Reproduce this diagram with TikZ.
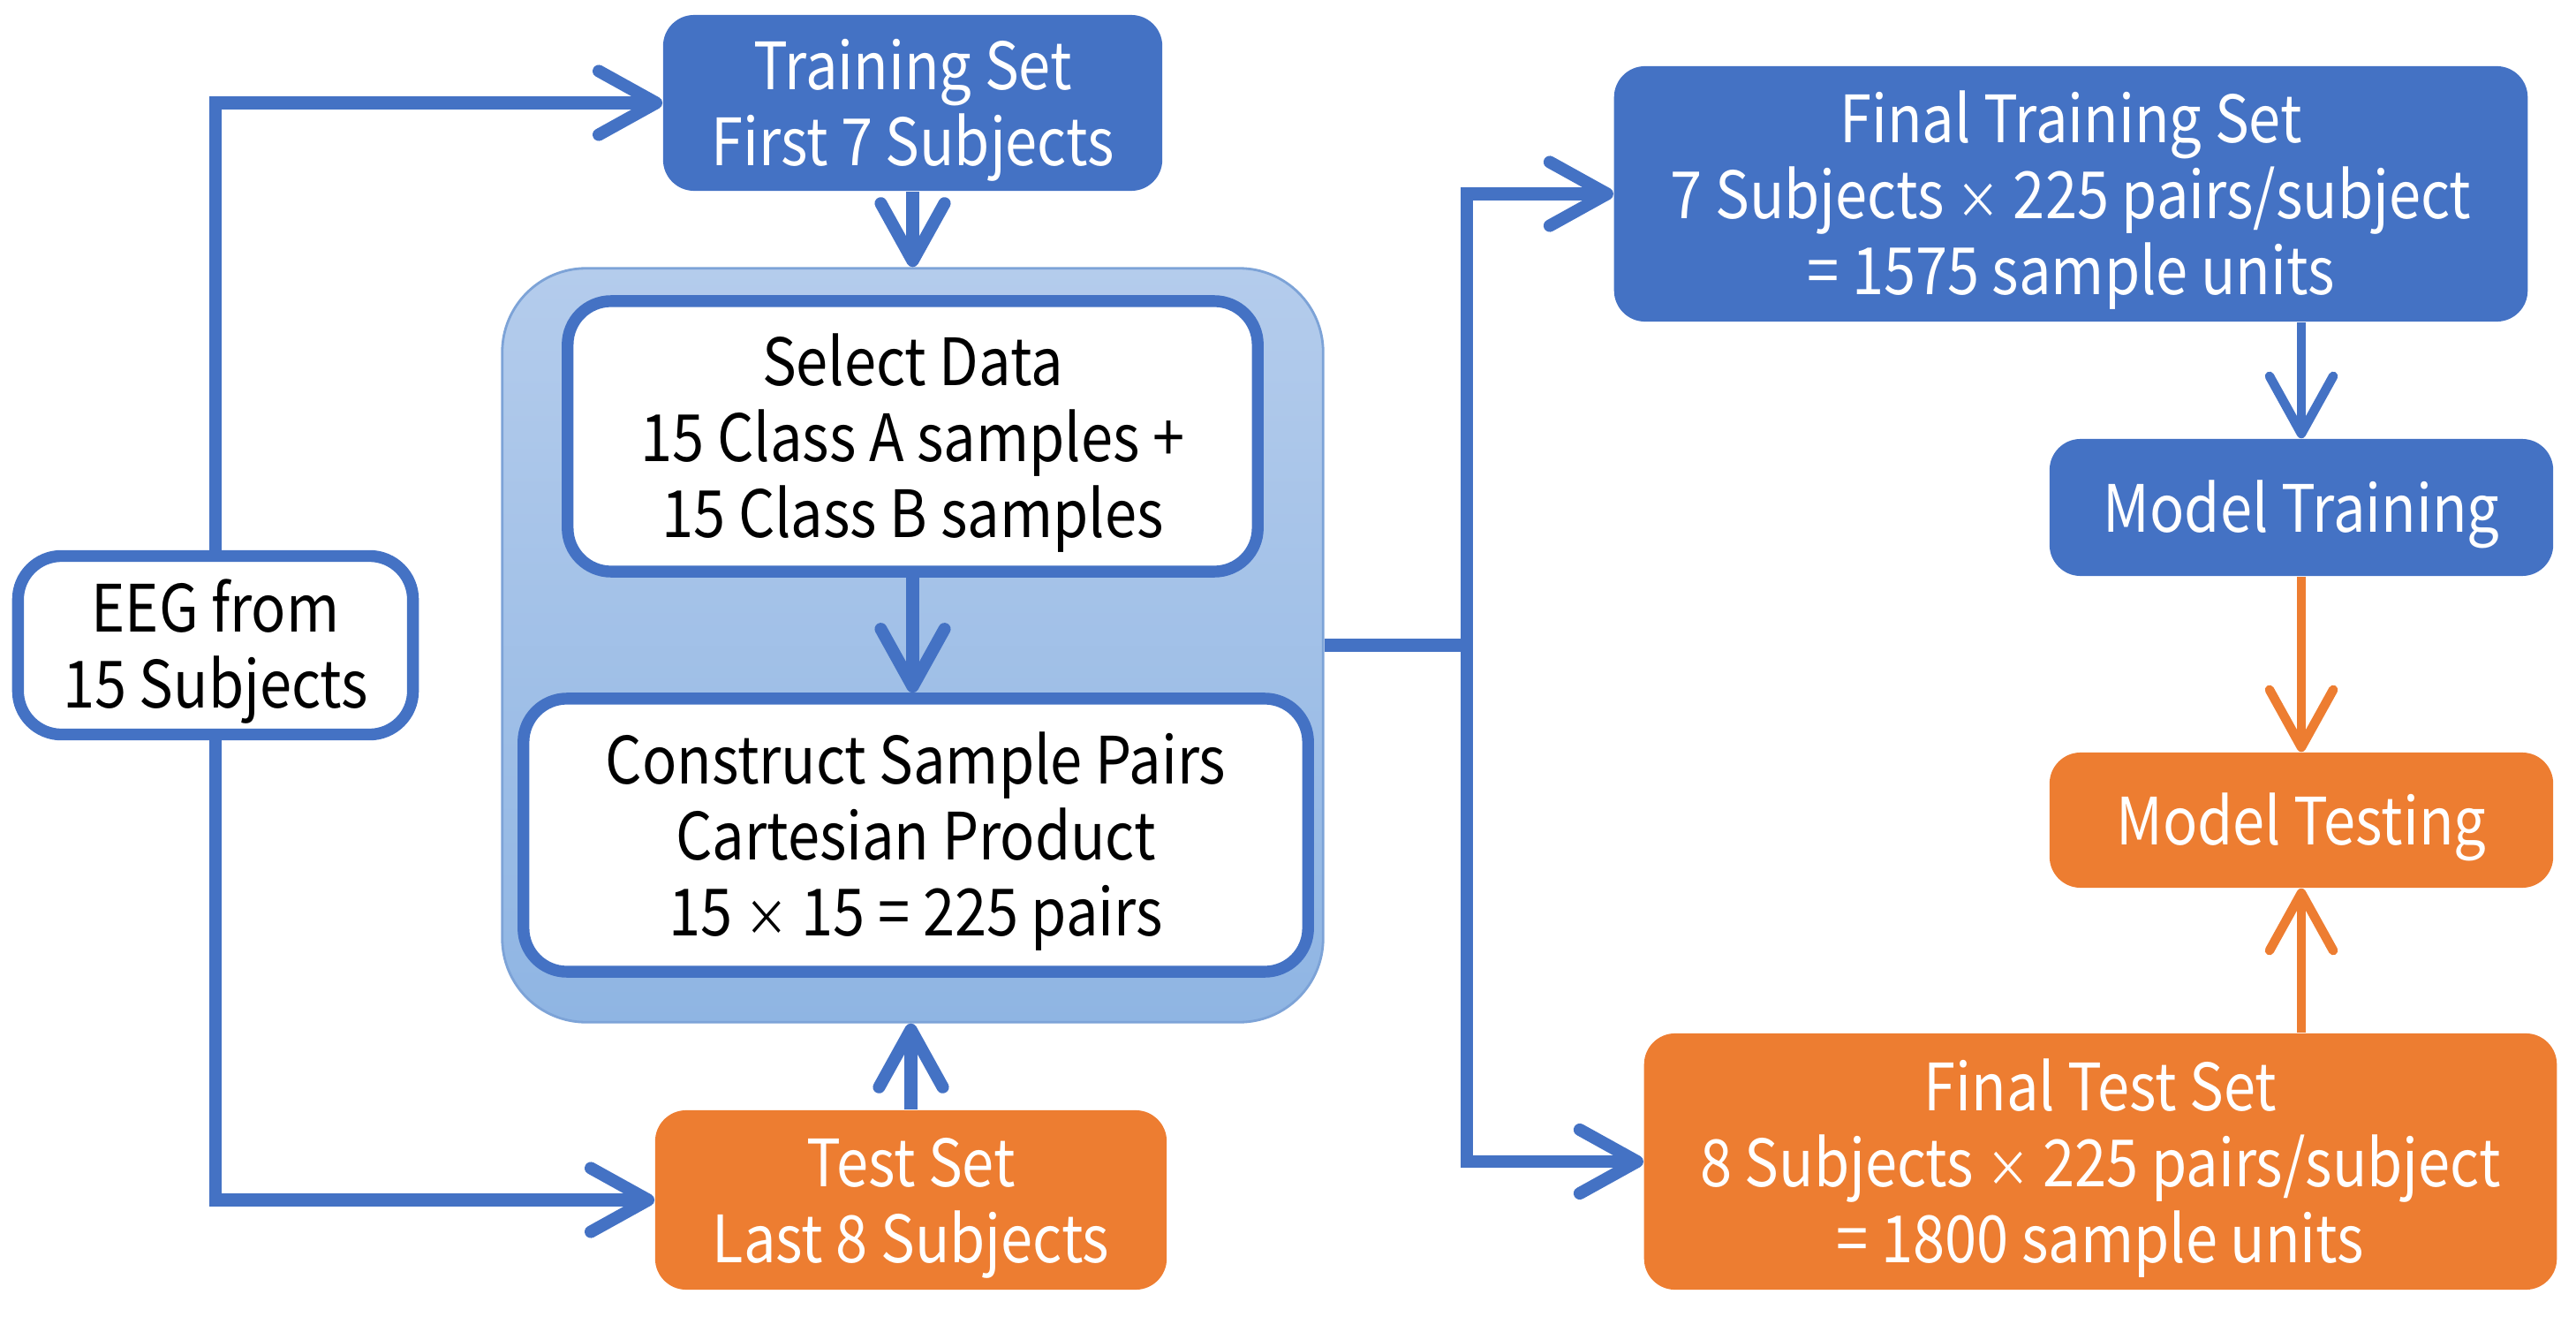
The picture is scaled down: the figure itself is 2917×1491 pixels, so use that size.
\documentclass[tikz,border=0pt]{standalone}
\usepackage{fontspec}
\setmainfont{Noto Sans CJK SC}[FakeStretch=0.88]
\usetikzlibrary{arrows.meta}
\definecolor{myblue}{RGB}{68,114,196}
\definecolor{myorange}{RGB}{237,125,49}
\definecolor{conttop}{RGB}{180,204,236}
\definecolor{contbot}{RGB}{143,181,227}
\definecolor{contline}{RGB}{125,163,215}
\newcommand\tms{{\fontsize{16}{16}\selectfont ×}}
\newcommand\topst{\rule{0pt}{22pt}}
\newcommand\botst{\rule[-5.9pt]{0pt}{0pt}}
\tikzset{
  txt/.style={font=\fontsize{21}{24.5}\selectfont, align=center, inner sep=0pt},
  bluebox/.style={txt, fill=myblue, text=white, rounded corners=10pt},
  orangebox/.style={txt, fill=myorange, text=white, rounded corners=10pt},
  whitebox/.style={txt, fill=white, draw=myblue, line width=3.8pt, text=black, rounded corners=14pt},
  container/.style={top color=conttop, bottom color=contbot, draw=contline, line width=0.8pt, rounded corners=27pt, inner sep=0pt},
  conn/.style={draw=myblue, line width=4pt, -{Straight Barb[length=18.5pt,width=20.5pt,round]}},
  thinconn/.style={line width=3pt, -{Straight Barb[length=18.5pt,width=20.5pt,round]}},
}
\begin{document}
\begin{tikzpicture}[x=0.01cm,y=-0.01cm]
\useasboundingbox (0,0) rectangle (2917,1491);
% container
\node[container, minimum width=9.29cm, minimum height=8.53cm] (cont) at (1033.5,730.5) {};
% nodes
\node[bluebox, minimum width=5.65cm, minimum height=1.99cm] (train) at (1033.5,116.5) {\topst Training Set\\First 7 Subjects\botst};
\node[whitebox, minimum width=4.47cm, minimum height=2.02cm] (eeg) at (244,730.5) {\topst EEG from\\15 Subjects\botst};
\node[whitebox, minimum width=7.81cm, minimum height=3.06cm] (select) at (1033.5,494) {\topst Select Data\\15 Class A samples +\\15 Class B samples\botst};
\node[whitebox, minimum width=8.88cm, minimum height=3.09cm] (construct) at (1037,945.5) {\topst Construct Sample Pairs\\Cartesian Product\\15 \tms{} 15 = 225 pairs\botst};
\node[orangebox, minimum width=5.79cm, minimum height=2.03cm] (test) at (1031.5,1358.5) {\topst Test Set\\Last 8 Subjects\botst};
\node[bluebox, minimum width=10.34cm, minimum height=2.89cm] (ftrain) at (2345,219.5) {\topst Final Training Set\\7 Subjects \tms{} 225 pairs/subject\\= 1575 sample units\botst};
\node[bluebox, minimum width=5.70cm, minimum height=1.55cm] (mtrain) at (2606,574.5) {\topst Model Training\botst};
\node[orangebox, minimum width=5.70cm, minimum height=1.53cm] (mtest) at (2606,928.5) {\topst Model Testing\botst};
\node[orangebox, minimum width=10.33cm, minimum height=2.90cm] (ftest) at (2378.5,1315) {\topst Final Test Set\\8 Subjects \tms{} 225 pairs/subject\\= 1800 sample units\botst};
\coordinate (junc) at (1661,730.5);
% connectors
\draw[conn] (eeg.north) |- (train.west);
\draw[conn] (eeg.south) |- (test.west);
\draw[conn] (train.south) -- (cont.north);
\draw[conn] (select.south) -- (select.south |- construct.north);
\draw[conn] (test.north) -- (test.north |- cont.south);
\draw[draw=myblue, line width=4pt] (cont.east) -- (junc);
\draw[conn] (junc) |- (ftrain.west);
\draw[conn] (junc) |- (ftest.west);
\draw[thinconn, draw=myblue] (ftrain.south -| mtrain.north) -- (mtrain.north);
\draw[thinconn, draw=myorange] (mtrain.south) -- (mtest.north);
\draw[thinconn, draw=myorange] (ftest.north -| mtest.south) -- (mtest.south);
\end{tikzpicture}
\end{document}
